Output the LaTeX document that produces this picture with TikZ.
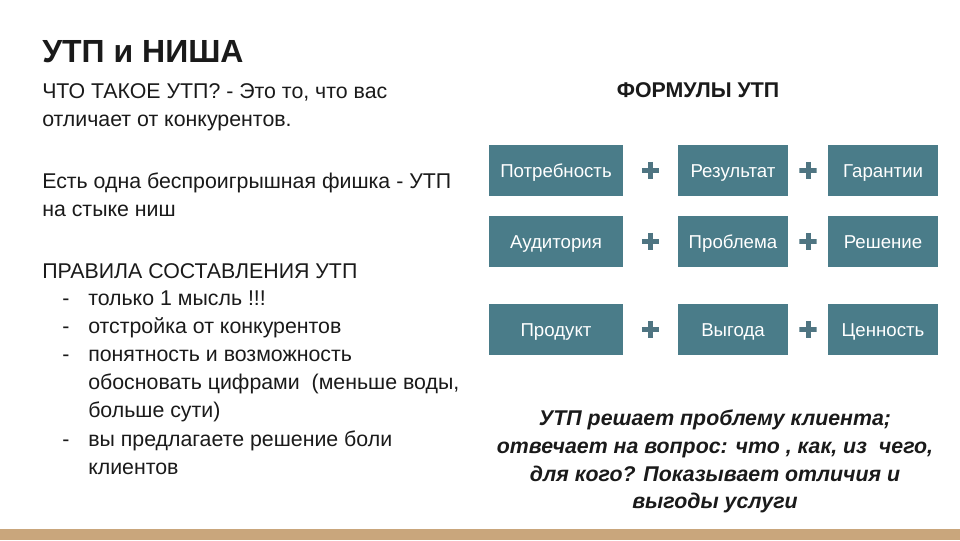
\documentclass[tikz,border=0pt]{standalone}
\usepackage{fontspec}
\setmainfont{Liberation Sans}
\usetikzlibrary{calc}
\definecolor{kasten}{HTML}{4A7C89}
\definecolor{kreuz}{HTML}{4F7582}
\definecolor{leiste}{HTML}{C9A67C}
\definecolor{schrift}{HTML}{1A1A1A}

\begin{document}
\begin{tikzpicture}[x=0.75pt, y=-0.75pt,
	zeile/.style={anchor=base west, inner sep=0pt, text=schrift, font=\fontsize{16}{20}\selectfont},
	formel/.style={fill=kasten, text=white, minimum height=38.25pt, inner sep=0pt, text height=12.5pt, text depth=1.5pt, font=\fontsize{14}{17}\selectfont},
	plus/.style={minimum size=13pt, inner sep=0pt, path picture={
		\draw[kreuz, line width=3.75pt] (path picture bounding box.west) -- (path picture bounding box.east)
			(path picture bounding box.north) -- (path picture bounding box.south);}},
	fazit/.style={anchor=base, inner sep=0pt, text=schrift, font=\fontsize{16}{19}\bfseries\itshape\selectfont}]
	\useasboundingbox (0,0) rectangle (960,540);
	\fill[white] (0,0) rectangle (960,540);
	% untere leiste
	\fill[leiste] (0,529) rectangle (960,540);
	% titel
	\node[zeile, font=\fontsize{24}{28}\bfseries\selectfont] (titel) at (42,62) {УТП и НИША};
	% linke seite
	\node[zeile] (z1) at (42,98) {ЧТО ТАКОЕ УТП? - Это то, что вас};
	\node[zeile] (z2) at (42,126) {отличает от конкурентов.};
	\node[zeile] (z3) at (42,188) {Есть одна беспроигрышная фишка - УТП};
	\node[zeile] (z4) at (42,216) {на стыке ниш};
	\node[zeile] (z5) at (42,278) {ПРАВИЛА СОСТАВЛЕНИЯ УТП};
	% liste
	\node[zeile] (s1) at (62,305) {-};
	\node[zeile] (l1) at (88,305) {только 1 мысль !!!};
	\node[zeile] (s2) at (62,333) {-};
	\node[zeile] (l2) at (88,333) {отстройка от конкурентов};
	\node[zeile] (s3) at (62,361) {-};
	\node[zeile] (l3) at (88,361) {понятность и возможность};
	\node[zeile] (l4) at (88,389) {обосновать цифрами \ (меньше воды,};
	\node[zeile] (l5) at (88,417) {больше сути)};
	\node[zeile] (s4) at (62,446) {-};
	\node[zeile] (l6) at (88,446) {вы предлагаете решение боли};
	\node[zeile] (l7) at (88,474) {клиентов};
	% rechte seite, ueberschrift
	\node[anchor=base, inner sep=0pt, text=schrift, font=\fontsize{16}{19}\bfseries\selectfont] (formeln) at (698,97) {ФОРМУЛЫ УТП};
	% erste formel
	\node[formel, minimum width=100.5pt] (bedarf) at (556,170.5) {Потребность};
	\node[formel, minimum width=82.5pt] (ergebnis) at (733,170.5) {Результат};
	\node[formel, minimum width=82.5pt] (garantie) at (883,170.5) {Гарантии};
	% zweite formel
	\node[formel, minimum width=100.5pt] (publikum) at (556,241.5) {Аудитория};
	\node[formel, minimum width=82.5pt] (problem) at (733,241.5) {Проблема};
	\node[formel, minimum width=82.5pt] (loesung) at (883,241.5) {Решение};
	% dritte formel
	\node[formel, minimum width=100.5pt] (produkt) at (556,329.5) {Продукт};
	\node[formel, minimum width=82.5pt] (nutzen) at (733,329.5) {Выгода};
	\node[formel, minimum width=82.5pt] (wert) at (883,329.5) {Ценность};
	% pluszeichen
	\node[plus] (p11) at ($(bedarf.east)!0.5!(ergebnis.west)$) {};
	\node[plus] (p12) at ($(ergebnis.east)!0.5!(garantie.west)$) {};
	\node[plus] (p21) at ($(publikum.east)!0.5!(problem.west)$) {};
	\node[plus] (p22) at ($(problem.east)!0.5!(loesung.west)$) {};
	\node[plus] (p31) at ($(produkt.east)!0.5!(nutzen.west)$) {};
	\node[plus] (p32) at ($(nutzen.east)!0.5!(wert.west)$) {};
	% fazit unten
	\node[fazit] (f1) at (715,425) {УТП решает проблему клиента;};
	\node[fazit] (f2) at (715,453) {отвечает на вопрос: что , как, из \ чего,};
	\node[fazit] (f3) at (715,481) {для кого? Показывает отличия и};
	\node[fazit] (f4) at (715,508) {выгоды услуги};
\end{tikzpicture}
\end{document}
